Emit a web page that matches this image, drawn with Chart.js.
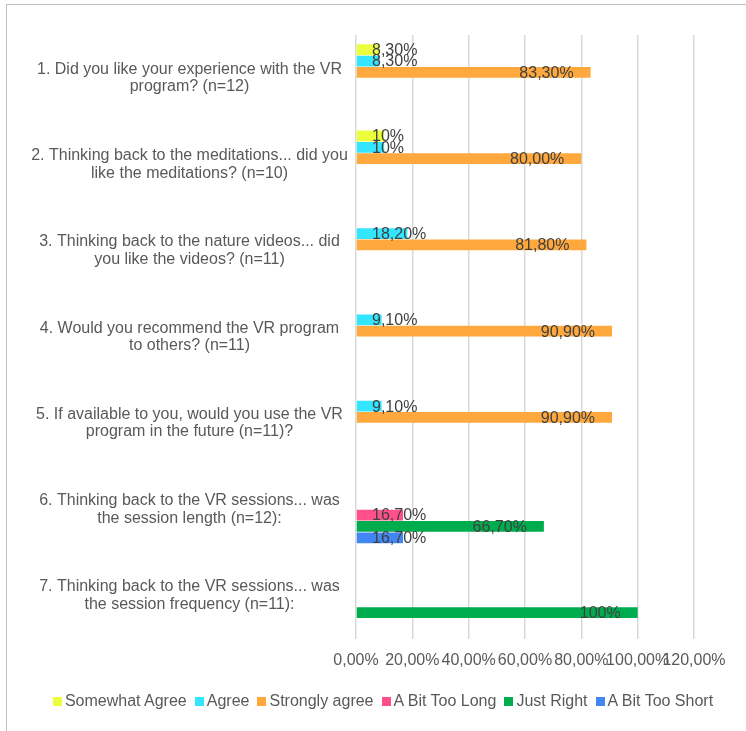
<!DOCTYPE html>
<html>
<head>
<meta charset="utf-8">
<script src="https://cdn.jsdelivr.net/npm/chart.js@4/dist/chart.umd.min.js"></script>
<style>
    body { margin: 0; background: #fff; overflow: hidden; width: 746px; height: 731px; position: relative; }
    #frame { position: absolute; left: 6px; top: 4px; width: 780px; height: 780px; border: 1px solid #bfbfbf; }
    #wrap { position: absolute; left: 0; top: 0; width: 746px; height: 731px; }
    #legend { position: absolute; left: 4px; top: 692px; width: 758px; display: flex; justify-content: center;
              font: 16px "Liberation Sans", Arial, sans-serif; color: #595959; white-space: nowrap; }
    #legend .item { display: flex; align-items: center; margin: 0 4px; }
    #legend .box { width: 9px; height: 9px; margin-right: 3px; }
</style>
</head>
<body>
<div id="frame"></div>
<div id="wrap"><canvas id="surveyChart" width="746" height="731"></canvas></div>
<div id="legend"></div>
<script>
// Questions (wrapped like the original)
const questions = [
    ['1. Did you like your experience with the VR', 'program? (n=12)'],
    ['2. Thinking back to the meditations... did you', 'like the meditations? (n=10)'],
    ['3. Thinking back to the nature videos... did', 'you like the videos? (n=11)'],
    ['4. Would you recommend the VR program', 'to others? (n=11)'],
    ['5. If available to you, would you use the VR', 'program in the future (n=11)?'],
    ['6. Thinking back to the VR sessions... was', 'the session length (n=12):'],
    ['7. Thinking back to the VR sessions... was', 'the session frequency (n=11):']
];

// Percent values per series
const somewhatAgree = [8.3, 10, null, null, null, null, null];
const agree = [8.3, 10, 18.2, 9.1, 9.1, null, null];
const stronglyAgree = [83.3, 80, 81.8, 90.9, 90.9, null, null];
const bitTooLong = [null, null, null, null, null, 16.7, null];
const justRight = [null, null, null, null, null, 66.7, 100];
const bitTooShort = [null, null, null, null, null, 16.7, null];

// Data label texts as shown on the chart
const somewhatAgreeText = ['8,30%', '10%', null, null, null, null, null];
const agreeText = ['8,30%', '10%', '18,20%', '9,10%', '9,10%', null, null];
const stronglyAgreeText = ['83,30%', '80,00%', '81,80%', '90,90%', '90,90%', null, null];
const bitTooLongText = [null, null, null, null, null, '16,70%', null];
const justRightText = [null, null, null, null, null, '66,70%', '100%'];
const bitTooShortText = [null, null, null, null, null, '16,70%', null];

const xTickLabels = ['0,00%', '20,00%', '40,00%', '60,00%', '80,00%', '100,00%', '120,00%'];

const FONT = '"Liberation Sans", Arial, sans-serif';
Chart.defaults.font.family = FONT;
Chart.defaults.font.size = 16;
Chart.defaults.color = '#595959';

// work out tick padding so the question labels sit centred around x=189
const measure = document.createElement('canvas').getContext('2d');
measure.font = '16px ' + FONT;
let widest = 0;
questions.forEach(q => q.forEach(line => { widest = Math.max(widest, measure.measureText(line).width); }));
const yPad = 356 - 189.5 - widest / 2;

// simple data label plugin
const valueLabels = {
    id: 'valueLabels',
    afterDatasetsDraw(chart) {
        const ctx = chart.ctx;
        const base = chart.scales.x.getPixelForValue(0);
        ctx.save();
        ctx.font = '16px ' + FONT;
        ctx.fillStyle = '#404040';
        ctx.textBaseline = 'middle';
        chart.data.datasets.forEach((ds, i) => {
            const meta = chart.getDatasetMeta(i);
            meta.data.forEach((bar, j) => {
                const v = ds.data[j];
                if (v === null) return;
                const txt = ds.labelTexts[j];
                if (v > 50) {
                    ctx.textAlign = 'right';
                    ctx.fillText(txt, bar.x - 17, bar.y + 1);
                } else {
                    ctx.textAlign = 'left';
                    ctx.fillText(txt, base + 16, bar.y + 1);
                }
            });
        });
        ctx.restore();
    }
};

function makeSet(label, data, texts, color) {
    return {
        label: label,
        data: data,
        labelTexts: texts,
        backgroundColor: color,
        borderWidth: 0,
        categoryPercentage: 0.79,
        barPercentage: 0.95
    };
}

const chart = new Chart(document.getElementById('surveyChart').getContext('2d'), {
    type: 'bar',
    data: {
        labels: questions,
        datasets: [
            makeSet('Somewhat Agree', somewhatAgree, somewhatAgreeText, '#ebff3c'),
            makeSet('Agree', agree, agreeText, '#33e5ff'),
            makeSet('Strongly agree', stronglyAgree, stronglyAgreeText, '#ffa83e'),
            makeSet('A Bit Too Long', bitTooLong, bitTooLongText, '#ff4f8c'),
            makeSet('Just Right', justRight, justRightText, '#00ad4e'),
            makeSet('A Bit Too Short', bitTooShort, bitTooShortText, '#4286f4')
        ]
    },
    options: {
        indexAxis: 'y',
        responsive: false,
        animation: false,
        layout: { padding: { left: 0, right: 52, top: 35, bottom: 49 } },
        plugins: {
            legend: { display: false },
            tooltip: { enabled: false }
        },
        scales: {
            x: {
                min: 0,
                max: 120,
                ticks: {
                    stepSize: 20,
                    padding: 12,
                    maxRotation: 0,
                    autoSkip: false,
                    callback: (v, i) => xTickLabels[i]
                },
                grid: { color: '#d9d9d9', lineWidth: 1.5, drawTicks: false },
                border: { display: false }
            },
            y: {
                afterFit: (scale) => { scale.width = 356; },
                ticks: { crossAlign: 'center', padding: yPad, autoSkip: false, font: { lineHeight: 1.1 } },
                grid: { display: false, drawTicks: false },
                border: { display: false }
            }
        }
    },
    plugins: [valueLabels]
});

// legend built from the datasets
const legendEl = document.getElementById('legend');
chart.data.datasets.forEach(ds => {
    const item = document.createElement('div');
    item.className = 'item';
    item.innerHTML = `<span class="box" style="background:${ds.backgroundColor}"></span><span>${ds.label}</span>`;
    legendEl.appendChild(item);
});
</script>
</body>
</html>
